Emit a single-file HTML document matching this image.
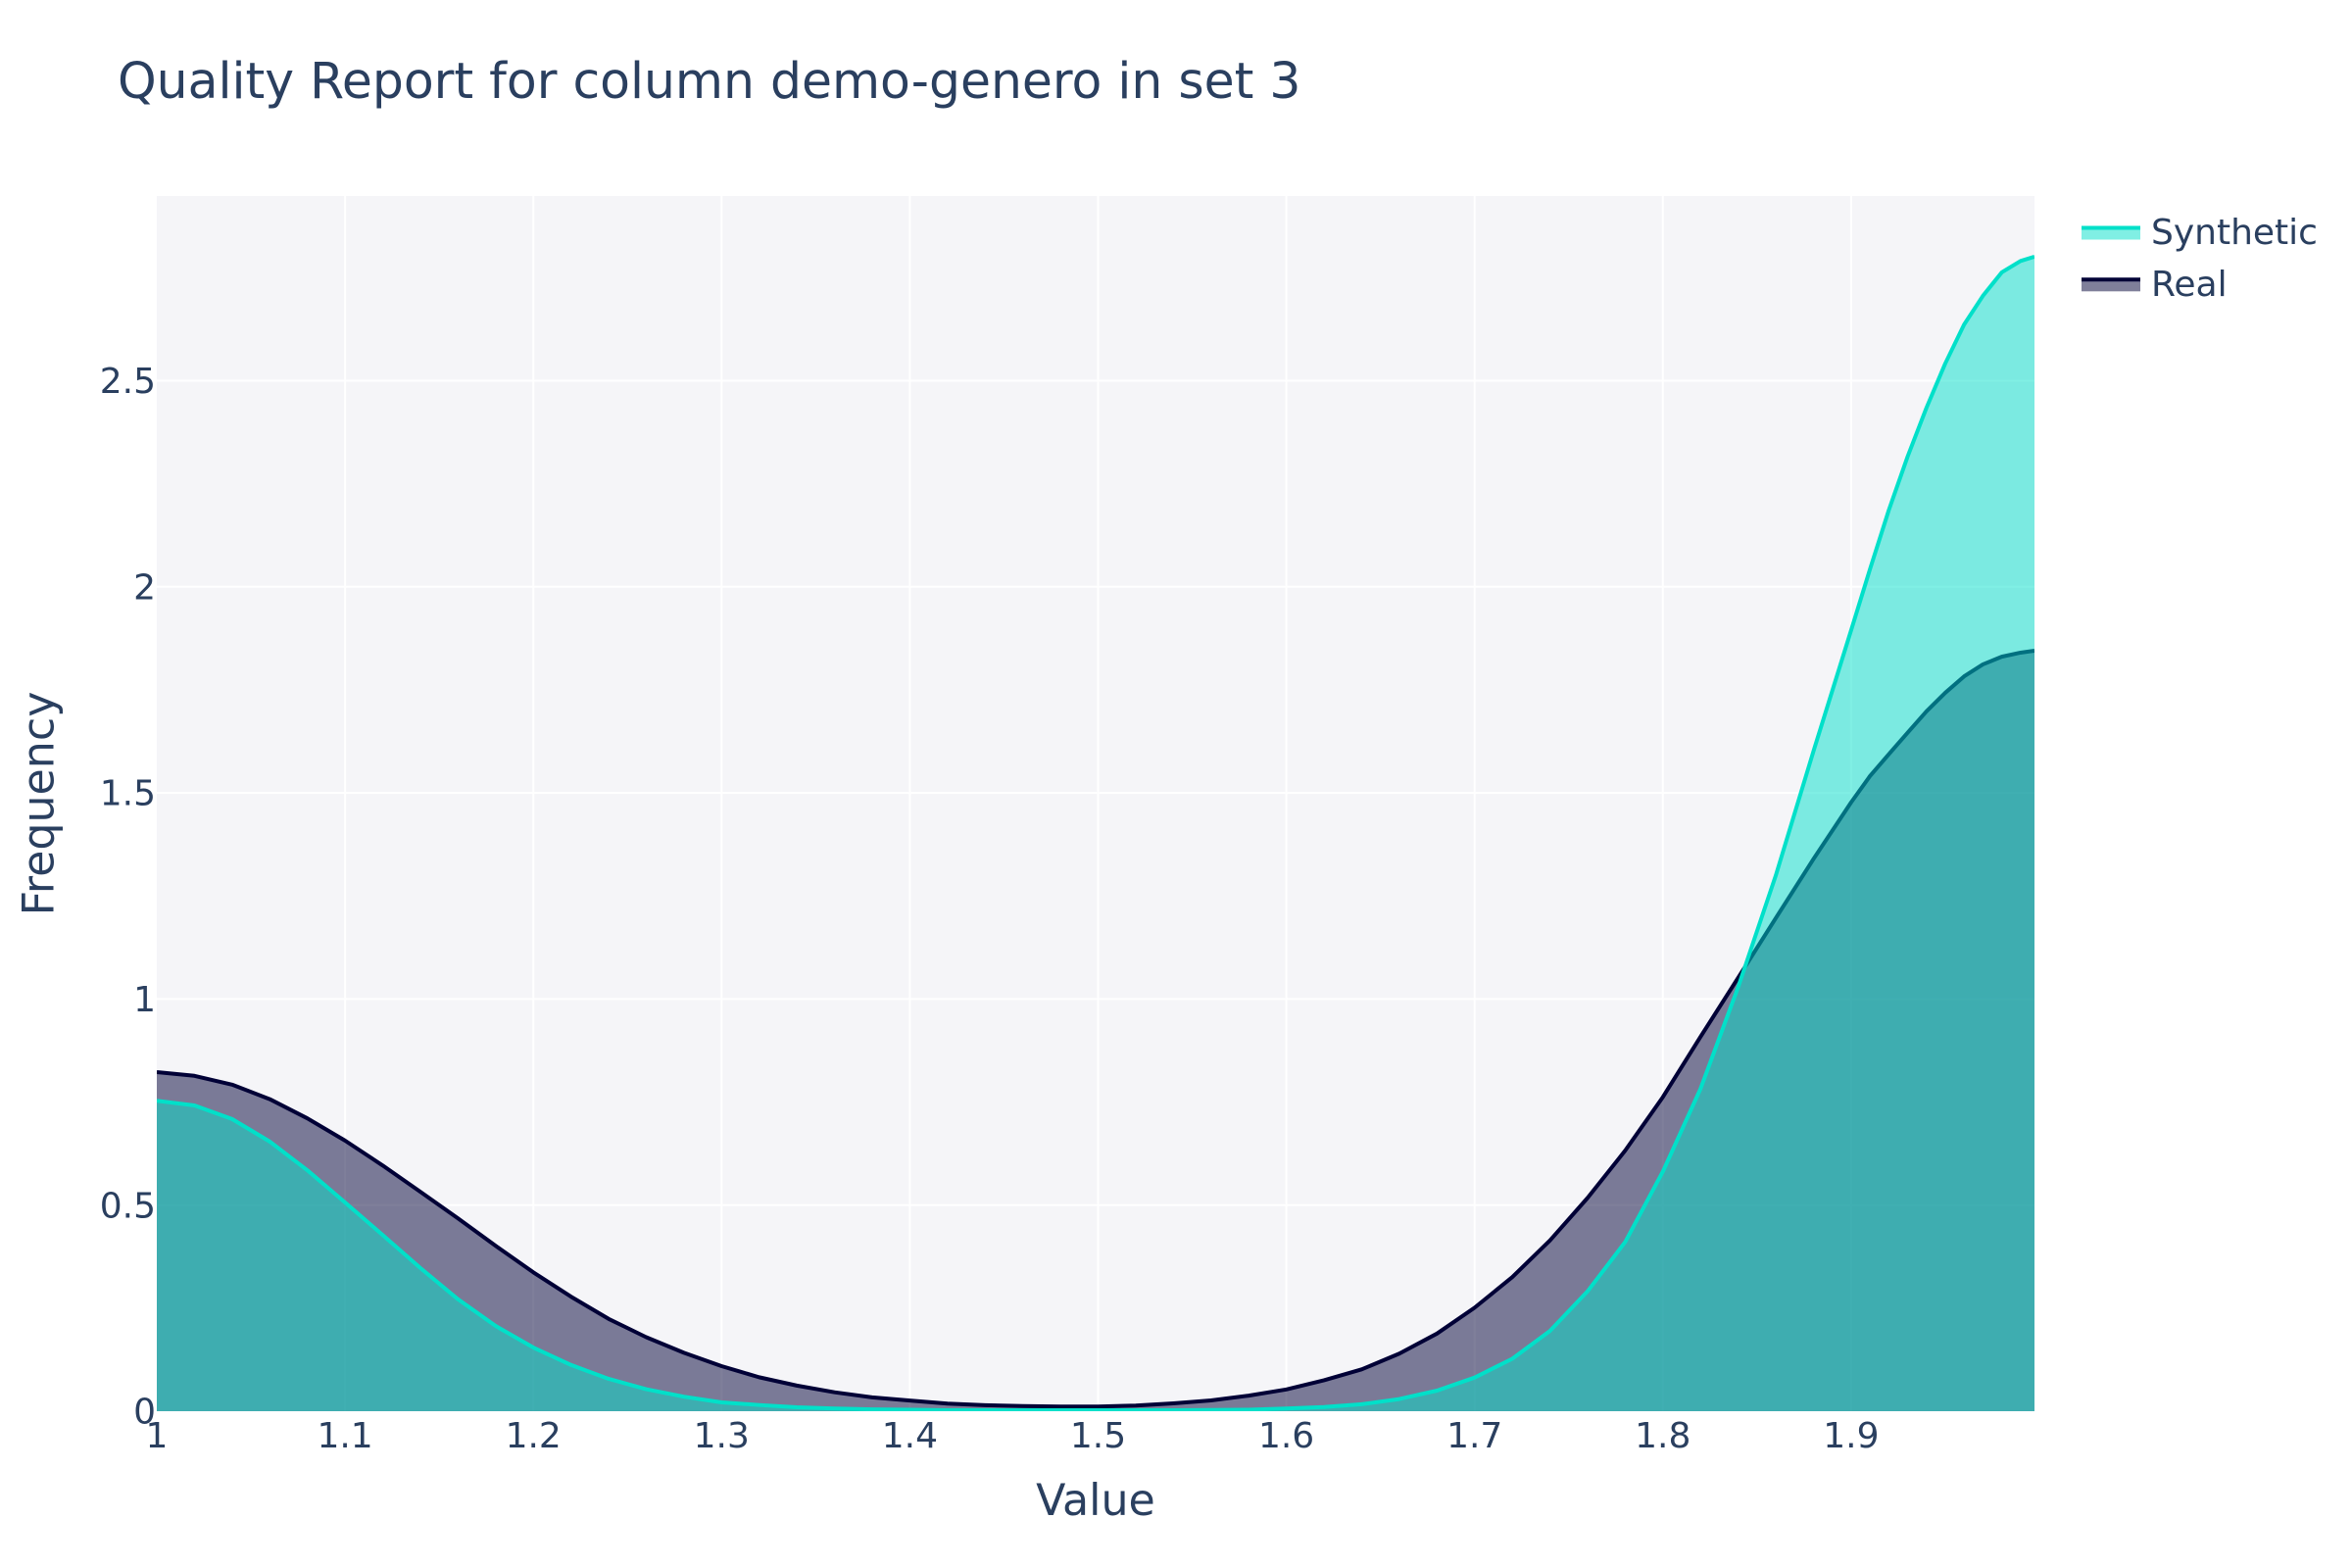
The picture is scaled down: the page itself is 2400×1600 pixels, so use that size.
<!DOCTYPE html>
<html lang="en">
<head>
<meta charset="utf-8">
<title>Quality Report for column demo-genero in set 3</title>
<style>
html,body{margin:0;padding:0;background:#fff;}
svg{display:block;}
text{font-family:"DejaVu Sans","Liberation Sans",sans-serif;fill:#2a3f5f;}
</style>
</head>
<body>
<svg id="chart" xmlns="http://www.w3.org/2000/svg" width="2400" height="1600" viewBox="0 0 2400 1600">
  <rect x="0" y="0" width="2400" height="1600" fill="#ffffff"/>
  <rect x="160" y="200" width="1916" height="1240" fill="#f5f5f8"/>
  <defs><clipPath id="plot-clip"><rect x="160" y="200" width="1916" height="1240"/></clipPath></defs>
  <g id="grid"></g>
  <g id="series" clip-path="url(#plot-clip)"></g>
  <g id="x-ticks"></g>
  <g id="y-ticks"></g>
  <text x="120" y="100" font-size="50.4">Quality Report for column demo-genero in set 3</text>
  <text x="1118" y="1546" font-size="44.3" text-anchor="middle">Value</text>
  <text transform="translate(54.5 820) rotate(-90)" font-size="44.3" text-anchor="middle">Frequency</text>
  <g>
    <g>
      <rect x="2124" y="232.5" width="60" height="12" fill="#01e0c9" fill-opacity="0.5"/>
      <line x1="2124" x2="2184" y1="232.5" y2="232.5" stroke="#01e0c9" stroke-width="4"/>
      <text x="2195" y="249" font-size="36">Synthetic</text>
    </g>
    <g>
      <rect x="2124" y="285.3" width="60" height="12" fill="#000036" fill-opacity="0.5"/>
      <line x1="2124" x2="2184" y1="285.3" y2="285.3" stroke="#000036" stroke-width="4"/>
      <text x="2195" y="302" font-size="36">Real</text>
    </g>
  </g>
</svg>
<script>
const xValues = [1.00,1.02,1.04,1.06,1.08,1.10,1.12,1.14,1.16,1.18,1.20,1.22,1.24,1.26,1.28,1.30,1.32,1.34,1.36,1.38,1.40,1.42,1.44,1.46,1.48,1.50,1.52,1.54,1.56,1.58,1.60,1.62,1.64,1.66,1.68,1.70,1.72,1.74,1.76,1.78,1.80,1.82,1.84,1.86,1.88,1.90,1.91,1.92,1.93,1.94,1.95,1.96,1.97,1.98,1.99,1.9974];
const realValues = [.8226,.8136,.7922,.7570,.7104,.6565,.5961,.5323,.4677,.4011,.3369,.2779,.2240,.1795,.1417,.1094,.0823,.0621,.0459,.0335,.0259,.0185,.0147,.0124,.0114,.0114,.0136,.0190,.0262,.0378,.0528,.0751,.1015,.1396,.1883,.2511,.3252,.4142,.5174,.6324,.7620,.9082,1.0516,1.1962,1.3395,1.4770,1.5407,1.5937,1.6460,1.6976,1.7428,1.7825,1.8117,1.8303,1.8402,1.8450];
const syntheticValues = [.7530,.7418,.7088,.6541,.5844,.5064,.4273,.3474,.2715,.2068,.1545,.1122,.0785,.0533,.0352,.0214,.0150,.0095,.0064,.0045,.0035,.0025,.0025,.0025,.0025,.0025,.0025,.0025,.0030,.0035,.0064,.0102,.0169,.0295,.0499,.0816,.1272,.1947,.2908,.4106,.5813,.7822,1.0290,1.2998,1.6011,1.8945,2.0423,2.1857,2.3158,2.4339,2.5416,2.6360,2.7057,2.7627,2.7903,2.8008];
const xTickValues = [1,1.1,1.2,1.3,1.4,1.5,1.6,1.7,1.8,1.9];
const xTickLabels = ["1","1.1","1.2","1.3","1.4","1.5","1.6","1.7","1.8","1.9"];
const yTickValues = [0,0.5,1,1.5,2,2.5];
const yTickLabels = ["0","0.5","1","1.5","2","2.5"];

const NS = 'http://www.w3.org/2000/svg';
const plot = {left:160, right:2076, top:200, bottom:1440};
const xMin = 1, xMax = 1.9974, yMin = 0, yMax = 2.948;
function xScale(v){ return plot.left + (v - xMin) / (xMax - xMin) * (plot.right - plot.left); }
function yScale(v){ return plot.bottom - (v - yMin) / (yMax - yMin) * (plot.bottom - plot.top); }

const gridGroup = document.getElementById('grid');
const xTickGroup = document.getElementById('x-ticks');
const yTickGroup = document.getElementById('y-ticks');
const seriesGroup = document.getElementById('series');

xTickValues.forEach(function(v, i){
  if (v > xMin) {
    const line = document.createElementNS(NS, 'line');
    
    
    line.setAttribute('x1', xScale(v));
    line.setAttribute('x2', xScale(v));
    line.setAttribute('y1', plot.top);
    line.setAttribute('y2', plot.bottom);
    line.setAttribute('stroke', '#ffffff');
    line.setAttribute('stroke-width', '2');
    gridGroup.appendChild(line);
  }
  const label = document.createElementNS(NS, 'text');
  
  
  label.setAttribute('x', xScale(v));
  label.setAttribute('y', 1477);
  label.setAttribute('font-size', '36');
  label.setAttribute('text-anchor', 'middle');
  label.textContent = xTickLabels[i];
  xTickGroup.appendChild(label);
});

yTickValues.forEach(function(v, i){
  if (v > yMin) {
    const line = document.createElementNS(NS, 'line');
    
    
    line.setAttribute('x1', plot.left);
    line.setAttribute('x2', plot.right);
    line.setAttribute('y1', yScale(v));
    line.setAttribute('y2', yScale(v));
    line.setAttribute('stroke', '#ffffff');
    line.setAttribute('stroke-width', '2');
    gridGroup.appendChild(line);
  }
  const label = document.createElementNS(NS, 'text');
  
  
  label.setAttribute('x', 159);
  label.setAttribute('y', yScale(v) + 12.6);
  label.setAttribute('font-size', '36');
  label.setAttribute('text-anchor', 'end');
  label.textContent = yTickLabels[i];
  yTickGroup.appendChild(label);
});

function linePath(values){
  return values.map(function(v, i){
    return (i ? 'L' : 'M') + xScale(xValues[i]).toFixed(2) + ' ' + yScale(v).toFixed(2);
  }).join(' ');
}
function areaPath(values){
  return linePath(values) +
    ' L' + xScale(xValues[xValues.length - 1]).toFixed(2) + ' ' + yScale(0) +
    ' L' + xScale(xValues[0]).toFixed(2) + ' ' + yScale(0) + ' Z';
}

const realArea = document.createElementNS(NS, 'path');


realArea.setAttribute('d', areaPath(realValues));
realArea.setAttribute('fill', '#000036');
realArea.setAttribute('fill-opacity', '0.5');
seriesGroup.appendChild(realArea);

const realLine = document.createElementNS(NS, 'path');


realLine.setAttribute('d', linePath(realValues));
realLine.setAttribute('fill', 'none');
realLine.setAttribute('stroke', '#000036');
realLine.setAttribute('stroke-width', '4');
realLine.setAttribute('stroke-linejoin', 'round');
seriesGroup.appendChild(realLine);

const syntheticArea = document.createElementNS(NS, 'path');


syntheticArea.setAttribute('d', areaPath(syntheticValues));
syntheticArea.setAttribute('fill', '#01e0c9');
syntheticArea.setAttribute('fill-opacity', '0.5');
seriesGroup.appendChild(syntheticArea);

const syntheticLine = document.createElementNS(NS, 'path');


syntheticLine.setAttribute('d', linePath(syntheticValues));
syntheticLine.setAttribute('fill', 'none');
syntheticLine.setAttribute('stroke', '#01e0c9');
syntheticLine.setAttribute('stroke-width', '4');
syntheticLine.setAttribute('stroke-linejoin', 'round');
seriesGroup.appendChild(syntheticLine);
</script>
</body>
</html>
